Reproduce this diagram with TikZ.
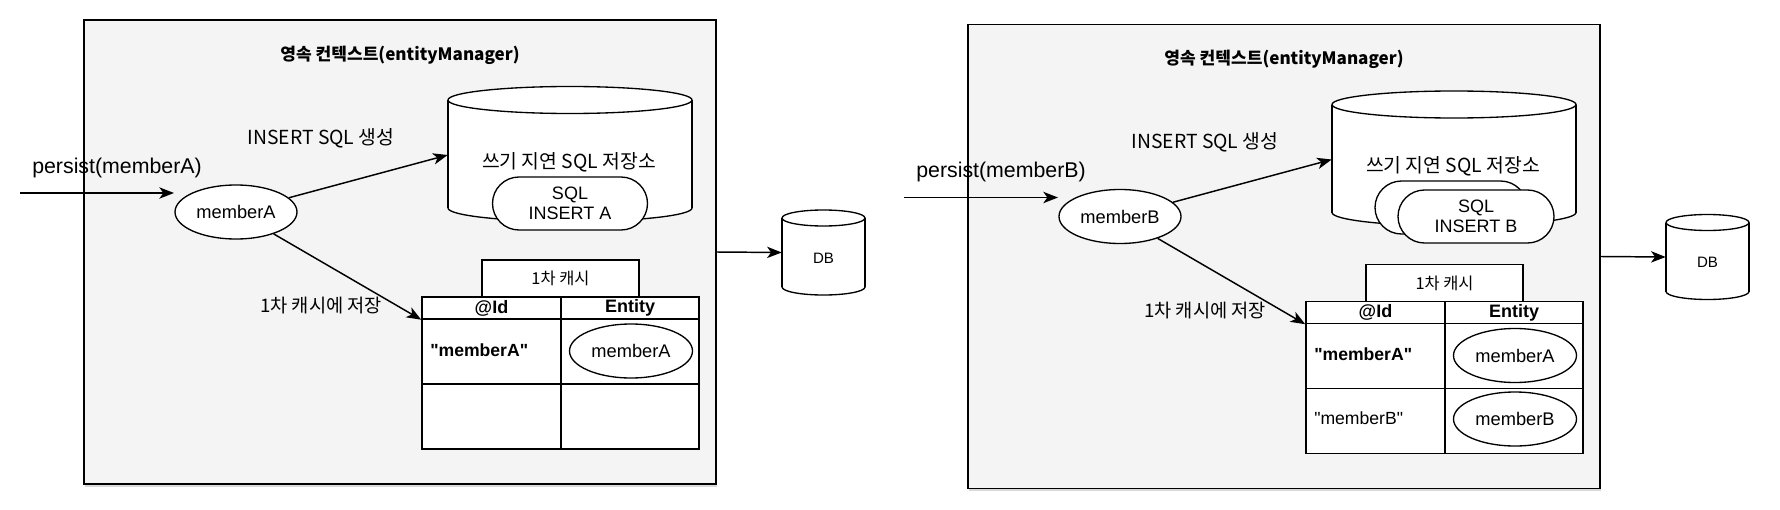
\documentclass[tikz,border=0pt]{standalone}
\usepackage{fontspec}
\setmainfont{Liberation Sans}[Ligatures=TeXOff]
\newfontfamily\kr{Noto Sans CJK KR}
\usetikzlibrary{arrows.meta,shapes.geometric,shapes.misc,shadows}
\definecolor{bg}{HTML}{F4F4F4}
\newcommand\mycyl[5]{%
  \fill[white] (#1,#3) ellipse ({#4} and {#5});
  \draw[line width=1pt] (#1,#3) ellipse ({#4} and {#5});
  \fill[white] (#1-#4,#2) rectangle (#1+#4,#3);
  \draw[line width=1pt] (#1-#4,#2) -- (#1-#4,#3) (#1+#4,#2) -- (#1+#4,#3);
  \draw[line width=1pt, fill=white] (#1,#2) ellipse ({#4} and {#5});
}
\begin{document}
\begin{tikzpicture}[x=0.75pt,y=-0.75pt,
  ctx/.style={draw, line width=1.2pt, fill=bg, minimum width=474pt, minimum height=348pt, inner sep=0pt,
    drop shadow={shadow xshift=1pt, shadow yshift=-2pt, opacity=0.3}},
  obj/.style={draw, ellipse, line width=1pt, fill=white, minimum width=91.5pt, minimum height=40.5pt,
    inner sep=0pt, font=\fontsize{13.7}{16}\selectfont},
  sqlbox/.style={draw, rounded rectangle, line width=1pt, fill=white, minimum width=116.25pt,
    minimum height=39.75pt, inner sep=0pt, align=center, font=\fontsize{13.5}{15}\selectfont},
  cachebox/.style={draw, line width=1.1pt, fill=white, minimum width=117.75pt, minimum height=27.75pt,
    inner sep=0pt, font=\kr\fontsize{12.3}{14}\selectfont},
  hdr/.style={draw, line width=1.1pt, fill=white, minimum height=16.5pt, inner sep=0pt,
    font=\bfseries\fontsize{13.5}{15}\selectfont},
  cellk/.style={draw, line width=1.1pt, fill=white, minimum width=104.25pt, minimum height=48.75pt, inner sep=0pt},
  cellv/.style={draw, line width=1.1pt, fill=white, minimum width=103.5pt, minimum height=48.75pt, inner sep=0pt},
  keytxt/.style={anchor=west, inner sep=0pt, font=\fontsize{13.2}{15}\selectfont},
  arr/.style={-{Stealth[length=11pt,width=8.5pt,inset=3pt]}, line width=1.1pt},
  lbl/.style={font=\kr\fontsize{14.5}{17}\selectfont, inner sep=0pt},
  ttl/.style={font=\kr\bfseries\fontsize{12.8}{15}\selectfont, inner sep=0pt},
  ptxt/.style={anchor=base west, inner sep=0pt, font=\fontsize{16}{19}\selectfont},
  hole/.style={inner sep=0pt, draw=none},
  dbtxt/.style={inner sep=0pt, font=\fontsize{11.3}{13}\selectfont}
]
\useasboundingbox (0,0) rectangle (1780,510);

% ===================== left panel =====================
\node[ctx] (ctxA) at (400,252) {};
\node[ttl] (titleA) at (400,55) {영속 컨텍스트(entityManager)};
\node[ptxt] (pA) at (32,173) {persist(memberA)};
\coordinate (pinA) at (20,193);
\coordinate (poutA) at (174,193);
\draw[arr] (pinA) -- (poutA);
\node[obj] (mA) at (236,212) {memberA};

\mycyl{570}{100}{208}{122}{13.5}
\node[hole, minimum width=183pt, minimum height=81pt] (wbA) at (570,155) {};
\node[lbl] (wbtA) at (569,162) {쓰기 지연 SQL 저장소};
\node[sqlbox] (sqlA) at (570,203.5) {SQL\\INSERT A};
\node[lbl] (insA) at (321,138) {INSERT SQL 생성};
\draw[arr] (mA) -- (wbA.west);

\node[cachebox] (cA) at (560.5,278.5) {1차 캐시};
\node[hdr, minimum width=104.25pt] (idA) at (491.5,308) {@Id};
\node[hdr, minimum width=103.5pt] (enA) at (630,308) {Entity};
\node[cellk] (k1A) at (491.5,351.5) {};
\node[cellv] (v1A) at (630,351.5) {};
\node[cellk] (k2A) at (491.5,416.5) {};
\node[cellv] (v2A) at (630,416.5) {};
\node[keytxt, font=\bfseries\fontsize{13.2}{15}\selectfont] (kt1A) at (430,350) {"memberA"};
\node[obj, minimum width=92.25pt] (e1A) at (631,351) {memberA};
\node[lbl, font=\kr\fontsize{14}{16}\selectfont] (svA) at (321,306) {1차 캐시에 저장};
\draw[arr] (mA) -- (idA.south west);

\mycyl{823.5}{218}{287}{41.5}{8}
\node[hole, minimum width=62.25pt, minimum height=51.75pt] (dbA) at (823.5,252.5) {};
\node[dbtxt] (dbtA) at (823.5,258) {DB};
\draw[arr] (ctxA.east) -- (dbA.west);

% ===================== right panel =====================
\begin{scope}[shift={(884,4.5)}]
\node[ctx] (ctxB) at (400,252) {};
\node[ttl] (titleB) at (400,55) {영속 컨텍스트(entityManager)};
\node[ptxt] (pB) at (32,173) {persist(memberB)};
\coordinate (pinB) at (20,193);
\coordinate (poutB) at (174,193);
\draw[arr] (pinB) -- (poutB);
\node[obj] (mB) at (236,212) {memberB};

\mycyl{570}{100}{208}{122}{13.5}
\node[hole, minimum width=183pt, minimum height=81pt] (wbB) at (570,155) {};
\node[lbl] (wbtB) at (569,162) {쓰기 지연 SQL 저장소};
\node[sqlbox, minimum width=114pt] (sqlB1) at (567,203) {};
\node[sqlbox, minimum width=117pt] (sqlB2) at (592,212) {SQL\\INSERT B};
\node[lbl] (insB) at (321,138) {INSERT SQL 생성};
\draw[arr] (mB) -- (wbB.west);

\node[cachebox] (cB) at (560.5,278.5) {1차 캐시};
\node[hdr, minimum width=104.25pt] (idB) at (491.5,308) {@Id};
\node[hdr, minimum width=103.5pt] (enB) at (630,308) {Entity};
\node[cellk] (k1B) at (491.5,351.5) {};
\node[cellv] (v1B) at (630,351.5) {};
\node[cellk] (k2B) at (491.5,416.5) {};
\node[cellv] (v2B) at (630,416.5) {};
\node[keytxt, font=\bfseries\fontsize{13.2}{15}\selectfont] (kt1B) at (430,350) {"memberA"};
\node[keytxt] (kt2B) at (430,414) {"memberB"};
\node[obj, minimum width=92.25pt] (e1B) at (631,351) {memberA};
\node[obj, minimum width=92.25pt] (e2B) at (631,414.5) {memberB};
\node[lbl, font=\kr\fontsize{14}{16}\selectfont] (svB) at (321,306) {1차 캐시에 저장};
\draw[arr] (mB) -- (idB.south west);

\mycyl{823.5}{218}{287}{41.5}{8}
\node[hole, minimum width=62.25pt, minimum height=51.75pt] (dbB) at (823.5,252.5) {};
\node[dbtxt] (dbtB) at (823.5,258) {DB};
\draw[arr] (ctxB.east) -- (dbB.west);
\end{scope}
\end{tikzpicture}
\end{document}
